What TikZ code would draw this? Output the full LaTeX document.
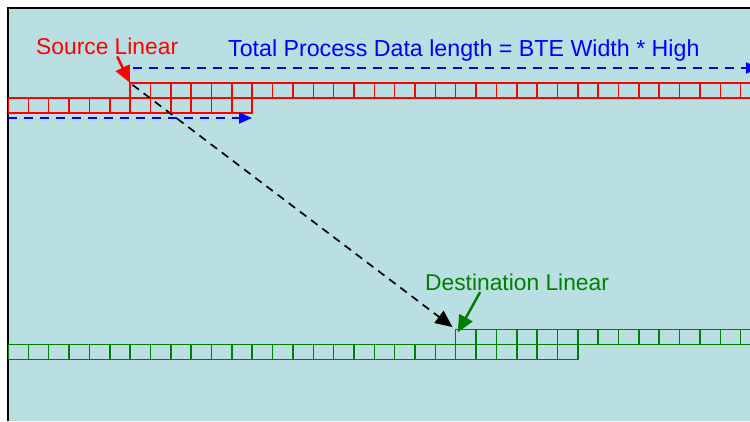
\documentclass[tikz,border=0pt]{standalone}
\usepackage{fontspec}
\setmainfont{Liberation Sans}
\usetikzlibrary{arrows.meta,positioning}
\definecolor{slideBlue}{RGB}{186,223,226}
\definecolor{destGreen}{RGB}{0,128,0}

\begin{document}
\begin{tikzpicture}[x=1pt,y=-1pt,
  cellbox/.style={line width=1.5pt},
  slidetext/.style={inner sep=0pt,anchor=base west,font=\fontsize{22.8}{27}\selectfont},
  bigtip/.style={-{Triangle[length=13pt,width=11pt]}},
  headtip/.style={-{Triangle[length=17pt,width=15pt]}},
  dashline/.style={line width=2pt,dash pattern=on 9pt off 7pt}]
\useasboundingbox (0,0) rectangle (750,421);
\fill[slideBlue] (8,8) rectangle (750,421);
\draw[line width=1.5pt] (8,421) -- (8,8) -- (750,8);

\begin{scope}
\clip (8,0) rectangle (750,421);
% source buffer
\foreach \i in {0,...,11}
  \draw[cellbox,red] ({8+20.35*\i},98) rectangle ++(20.35,15);
\foreach \i in {0,...,30}
  \draw[cellbox,red] ({130.1+20.35*\i},83) rectangle ++(20.35,15);
% destination buffer
\foreach \i in {0,...,27}
  \draw[cellbox,destGreen] ({8+20.35*\i},344.5) rectangle ++(20.35,15);
\foreach \i in {0,...,14}
  \draw[cellbox,destGreen] ({455.7+20.35*\i},329.5) rectangle ++(20.35,15);

\coordinate (totstart) at (133,68);
\coordinate (totend) at (759,68);
\coordinate (bufstart) at (8,118);
\coordinate (bufend) at (252,118);
\draw[dashline,blue,bigtip] (totstart) -- (totend);
\draw[dashline,blue,bigtip] (bufstart) -- (bufend);
\end{scope}

\coordinate (srccorner) at (130.1,83);
\coordinate (dstcorner) at (455.7,329.5);

\node[slidetext,red] (srclabel) at (36,54) {Source Linear};
\node[slidetext,blue,font=\fontsize{23.2}{27}\selectfont] (totlabel) at (228,56) {Total Process Data length = BTE Width * High};
\node[slidetext,destGreen] (dstlabel) at (425,290.7) {Destination Linear};

\draw[red,line width=2.5pt,headtip] ([xshift=10pt,yshift=-2pt]srclabel.south) -- (srccorner);
\draw[destGreen,line width=2.5pt,headtip] ([xshift=-37pt,yshift=-1pt]dstlabel.south) -- ([xshift=2pt,yshift=-3pt]dstcorner);
\draw[black,line width=1.7pt,dash pattern=on 8pt off 6pt,headtip,
  shorten <=3pt,shorten >=4pt] (srccorner) -- (dstcorner);
\end{tikzpicture}
\end{document}
